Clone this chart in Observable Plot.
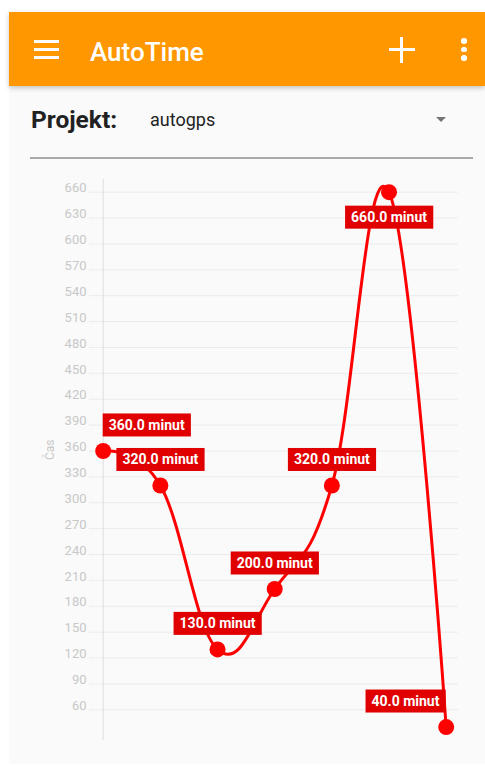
<!DOCTYPE html>
<html>
<head>
<meta charset="utf-8">
<script src="https://cdn.jsdelivr.net/npm/d3@7"></script>
<script src="https://cdn.jsdelivr.net/npm/@observablehq/plot@0.6"></script>
<style>
  html, body { margin: 0; padding: 0; }
  body { width: 485px; height: 765px; overflow: hidden; position: relative; background: #ffffff; font-family: Roboto, "Noto Sans", sans-serif; }
  .abs { position: absolute; }
  #app { left: 9px; top: 12px; width: 476px; height: 752px; background: #fafafa; }
  #bar { left: 9px; top: 12px; width: 476px; height: 74px; background: #ff9800; box-shadow: 0 2px 5px rgba(0,0,0,0.22); }
  .hb { left: 34px; width: 25px; height: 3px; background: #fff; }
  #title { left: 90px; top: 37px; font-size: 26px; line-height: 30px; font-weight: 500; color: #fff; white-space: nowrap; }
  .plus { background: #fff; }
  .dot3 { width: 5.5px; height: 5.5px; border-radius: 50%; background: #fff; left: 461.3px; }
  #proj { left: 31px; top: 105px; font-size: 24.5px; line-height: 30px; font-weight: 700; color: #212121; white-space: nowrap; }
  #projval { left: 150px; top: 108px; font-size: 18px; line-height: 24px; color: #222; white-space: nowrap; }
  #tri { left: 436px; top: 117px; width: 0; height: 0; border-left: 5px solid transparent; border-right: 5px solid transparent; border-top: 5.5px solid #757575; }
  #uline { left: 30px; top: 157px; width: 443px; height: 1.5px; background: #a9a9a9; }
  #chart { left: 0; top: 170px; }
</style>
</head>
<body>
<div class="abs" id="app"></div>
<div class="abs" id="bar"></div>
<div class="abs hb" style="top:39.5px"></div>
<div class="abs hb" style="top:48px"></div>
<div class="abs hb" style="top:56px"></div>
<div class="abs" id="title"></div>
<div class="abs plus" style="left:389px;top:48px;width:26px;height:3px"></div>
<div class="abs plus" style="left:400.2px;top:36.5px;width:3px;height:26px"></div>
<div class="abs dot3" style="top:38.3px"></div>
<div class="abs dot3" style="top:46.6px"></div>
<div class="abs dot3" style="top:55px"></div>
<div class="abs" id="proj"></div>
<div class="abs" id="projval"></div>
<div class="abs" id="tri"></div>
<div class="abs" id="uline"></div>
<div class="abs" id="chart"></div>
<script>
// ---- data ----
const appTitle = "AutoTime";
const projectLabel = "Projekt:";
const projectName = "autogps";
const entries = [1, 2, 3, 4, 5, 6, 7];
const minutes = [360, 320, 130, 200, 320, 660, 40];
const yTicks = [60, 90, 120, 150, 180, 210, 240, 270, 300, 330, 360, 390, 420, 450, 480, 510, 540, 570, 600, 630, 660];
const unit = "minut";
const axisTitle = "Čas";

document.getElementById("title").textContent = appTitle;
document.getElementById("proj").textContent = projectLabel;
document.getElementById("projval").textContent = projectName;

const rows = entries.map((e, i) => ({e, m: minutes[i]}));

const chart = Plot.plot({
  width: 485,
  height: 590,
  marginTop: 9,
  marginBottom: 20,
  marginLeft: 89,
  marginRight: 27,
  x: {domain: [1, 7], range: [102.7, 445.7], axis: null},
  y: {domain: [24.4, 674.7], axis: null},
  style: {background: "transparent", fontFamily: "Roboto, sans-serif", fontSize: "13px", overflow: "visible"},
  marks: [
    Plot.ruleY(yTicks, {y: d => d, stroke: "#ebebeb", strokeWidth: 1}),
    Plot.ruleX([entries[0]], {x: d => d, stroke: "#dedede", strokeWidth: 1}),
    Plot.text(yTicks, {y: d => d, text: d => String(d), frameAnchor: "left", textAnchor: "end", dx: -3, dy: -4, fill: "#c8c8c8", fontSize: 13}),
    Plot.text([axisTitle], {text: d => d, frameAnchor: "left", rotate: -90, dx: -39, fill: "#c8c8c8", fontSize: 12}),
    Plot.line(rows, {x: "e", y: "m", curve: "cardinal", tension: -0.2, stroke: "#ff0000", strokeWidth: 3}),
    Plot.dot(rows, {x: "e", y: "m", r: 8, fill: "#ff0000"}),
    Plot.text(rows, {x: "e", y: "m", text: d => d.m.toFixed(1) + " " + unit, dy: -25.5, fill: "#ffffff", fontWeight: "bold", fontSize: 14})
  ]
});
document.getElementById("chart").appendChild(chart);

// value label boxes, kept inside the plotted x range and flipped below when above the frame top
const xr = chart.scale("x").range;
const yr = chart.scale("y").range;
const xLo = Math.min(...xr), xHi = Math.max(...xr), yTop = Math.min(...yr);
const sr = chart.getBoundingClientRect();
const labels = Array.from(chart.querySelectorAll("text")).filter(t => t.textContent.endsWith(" " + unit));
if (labels.length) {
  const grp = labels[0].closest("g");
  const boxes = document.createElementNS("http://www.w3.org/2000/svg", "g");
  labels.forEach(t => {
    const r = t.getBoundingClientRect();
    const w = r.width, bw = w + 12, bh = 23;
    const cx = r.left - sr.left + w / 2;
    const cy = r.top - sr.top + r.height / 2;
    let bx = cx - bw / 2, by = cy - bh / 2, sx = 0, sy = 0;
    if (bx < xLo) sx = xLo - bx;
    if (bx + bw > xHi) sx = xHi - (bx + bw);
    if (by < yTop) sy = 51;
    t.setAttribute("transform", ((t.getAttribute("transform") || "") + ` translate(${sx},${sy})`).trim());
    const rect = document.createElementNS("http://www.w3.org/2000/svg", "rect");
    rect.setAttribute("x", bx + sx);
    rect.setAttribute("y", by + sy);
    rect.setAttribute("width", bw);
    rect.setAttribute("height", bh);
    rect.setAttribute("fill", "#e00000");
    boxes.appendChild(rect);
  });
  grp.parentNode.insertBefore(boxes, grp);
}
</script>
</body>
</html>
